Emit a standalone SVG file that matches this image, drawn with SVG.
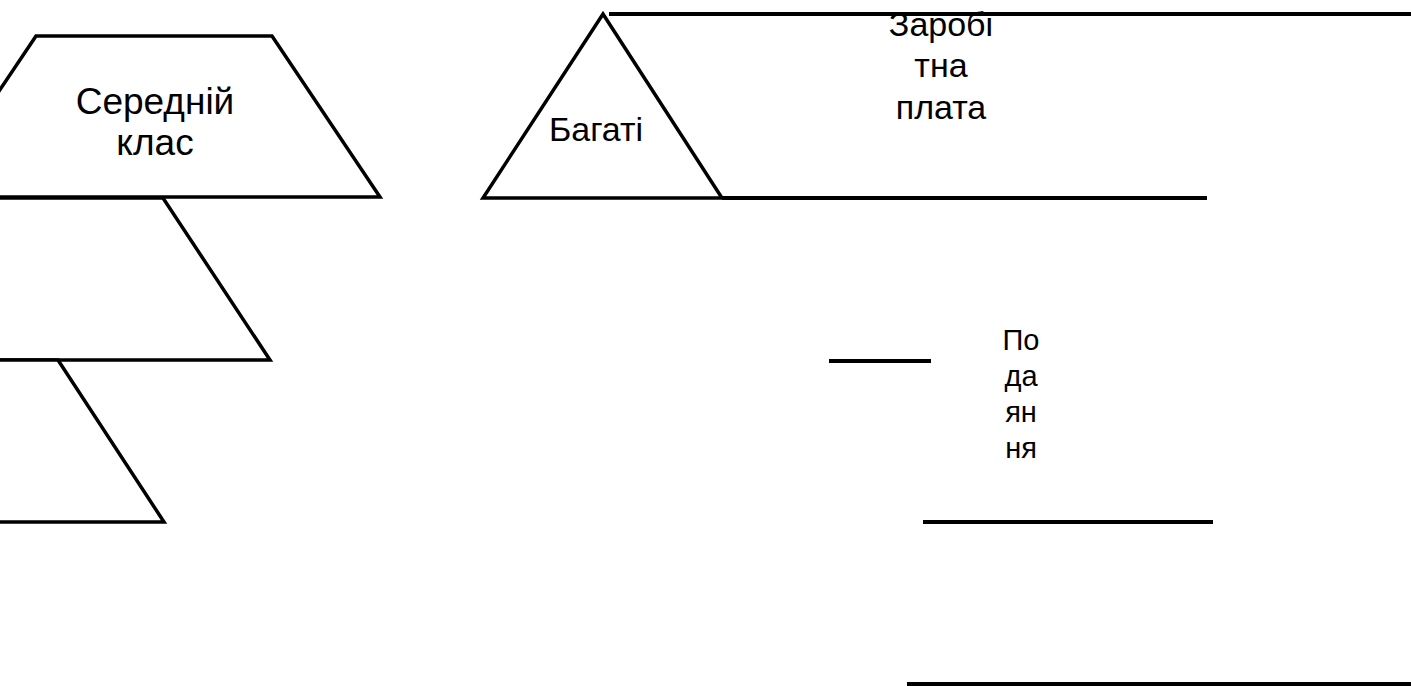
<svg xmlns="http://www.w3.org/2000/svg" width="1411" height="686" viewBox="0 0 1411 686">
<style>
.shape{fill:#fff;stroke:#000;stroke-width:3.5;stroke-linejoin:miter}
.ln{stroke:#000;stroke-width:4;fill:none}
.t{font-family:"Liberation Sans",Arial,sans-serif;fill:#000;text-anchor:middle}
</style>
<rect width="1411" height="686" fill="#fff"/>
<g id="middle-class">
<polygon class="shape" points="36,36 272,36 380,197 -72,197"/>
<text class="t" font-size="37" x="155" y="114">Середній</text>
<text class="t" font-size="37" x="155" y="155">клас</text>
</g>
<g id="level2">
<polygon class="shape" points="-200,198 163,198 270,360 -200,360"/>
</g>
<g id="level3">
<polygon class="shape" points="-200,360 58,360 164,522 -200,522"/>
</g>
<g id="rich">
<polygon class="shape" points="603,14 722,198 483,198"/>
<text class="t" font-size="34" x="596" y="141">Багаті</text>
</g>
<g id="connectors">
<line class="ln" x1="609" y1="14" x2="1411" y2="14"/>
<line class="ln" x1="722" y1="198" x2="1207" y2="198"/>
<line class="ln" x1="829" y1="361" x2="931" y2="361"/>
<line class="ln" x1="923" y1="522" x2="1213" y2="522"/>
<line class="ln" x1="907" y1="684" x2="1411" y2="684"/>
</g>
<g id="salary">
<text class="t" font-size="34" x="941" y="36">Заробі</text>
<text class="t" font-size="34" x="941" y="77">тна</text>
<text class="t" font-size="34" x="941" y="119">плата</text>
</g>
<g id="taxes">
<text class="t" font-size="29" x="1021" y="350">По</text>
<text class="t" font-size="29" x="1021" y="386">да</text>
<text class="t" font-size="29" x="1021" y="422">ян</text>
<text class="t" font-size="29" x="1021" y="458">ня</text>
</g>
</svg>
